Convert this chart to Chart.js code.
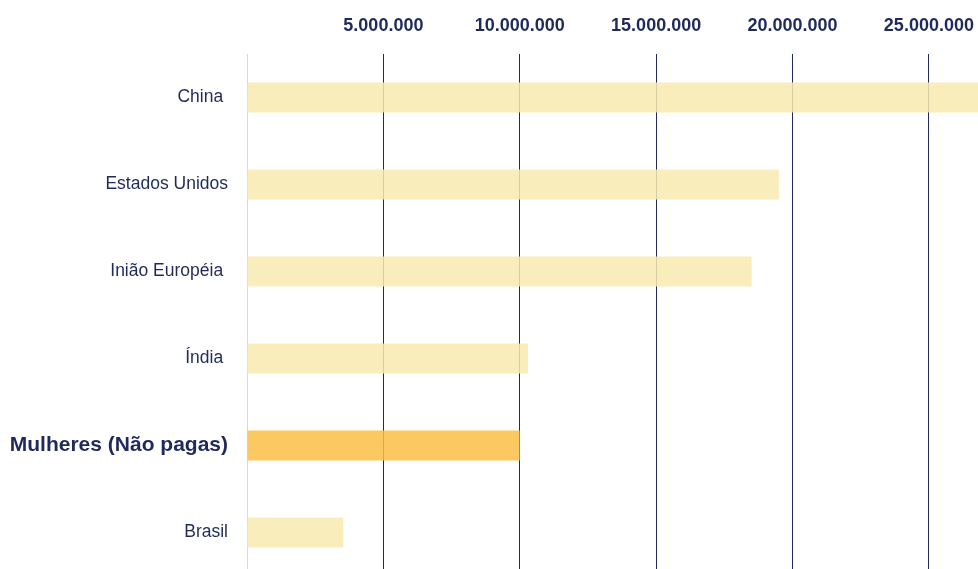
<!DOCTYPE html>
<html>
<head>
<meta charset="utf-8">
<script src="https://cdn.jsdelivr.net/npm/chart.js@4"></script>
<style>
    html, body { margin: 0; padding: 0; background: #fff; overflow: hidden; }
    #wrap { width: 978px; height: 576px; }
</style>
</head>
<body>
<div id="wrap"><canvas id="grafico" width="978" height="576"></canvas></div>
<script>
const categorias = ['China ', 'Estados Unidos', 'Inião Européia ', 'Índia ', 'Mulheres (Não pagas)', 'Brasil'];
const valores = [26800000, 19500000, 18500000, 10300000, 10000000, 3530000];
const destaque = 'Mulheres (Não pagas)';
const ticksX = [5000000, 10000000, 15000000, 20000000, 25000000];

const azul = '#1f2a5a';
const fonte = 'Liberation Sans, Arial, sans-serif';

// tira o padding automatico que o Chart.js coloca nas pontas
const semPadding = s => {
    s.paddingLeft = 0;
    s.paddingRight = 0;
    s.paddingTop = 0;
    s.paddingBottom = 0;
};

const ctx = document.getElementById('grafico');

new Chart(ctx, {
    type: 'bar',
    data: {
        labels: categorias,
        datasets: [{
            data: valores,
            backgroundColor: categorias.map(c => c === destaque ? 'rgba(250, 190, 70, 0.85)' : 'rgba(247, 234, 175, 0.85)'),
            borderWidth: 0,
            categoryPercentage: 1,
            barPercentage: 0.345
        }]
    },
    options: {
        indexAxis: 'y',
        responsive: false,
        animation: false,
        layout: { padding: 0, autoPadding: false },
        plugins: {
            legend: { display: false },
            tooltip: { enabled: false }
        },
        scales: {
            x: {
                position: 'top',
                min: 0,
                max: 26800000,
                border: { display: false },
                grid: {
                    drawTicks: false,
                    lineWidth: 1,
                    color: c => (c.tick && c.tick.value === 0) ? '#d9d9d9' : azul
                },
                ticks: {
                    padding: 17,
                    color: azul,
                    font: { family: fonte, size: 18, weight: 'bold' },
                    callback: v => v === 0 ? '' : v.toLocaleString('de-DE')
                },
                // ticks fixos a cada 5 milhões
                afterBuildTicks: s => { s.ticks = [0, ...ticksX].map(v => ({ value: v })); },
                afterFit: s => { s.height = 54; semPadding(s); }
            },
            y: {
                border: { display: false },
                grid: { display: false, drawTicks: false },
                ticks: {
                    padding: 19,
                    color: azul,
                    font: c => c.index === 4
                        ? { family: fonte, size: 21, weight: 'bold' }
                        : { family: fonte, size: 17.5 }
                },
                afterFit: s => { s.width = 247; semPadding(s); }
            }
        }
    }
});
</script>
</body>
</html>
